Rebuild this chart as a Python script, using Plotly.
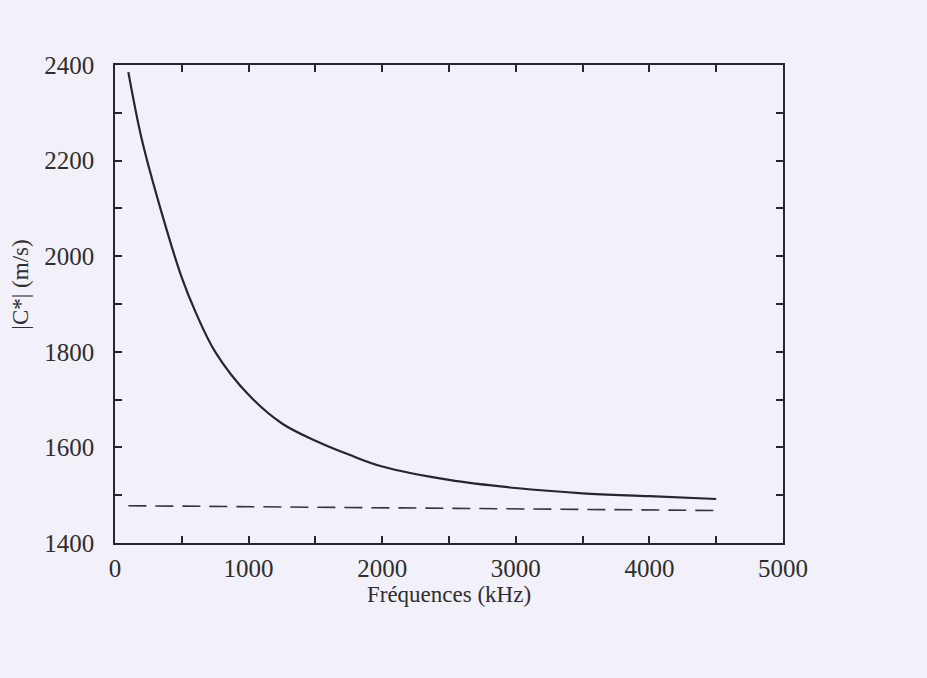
import plotly.graph_objects as go

# Data
freq_khz = [100, 200, 350, 500, 600, 750, 1000, 1250, 1500, 1750, 2000, 2500, 3000, 3500, 4000, 4500]
c_abs = [2385, 2245, 2090, 1955, 1885, 1800, 1710, 1650, 1614, 1585, 1560, 1532, 1515, 1504, 1498, 1492]

dash_freq = [100, 4500]
dash_c = [1478, 1468]

x_tickvals = [0, 500, 1000, 1500, 2000, 2500, 3000, 3500, 4000, 4500, 5000]
x_ticktext = ["0", "", "1000", "", "2000", "", "3000", "", "4000", "", "5000"]
y_tickvals = [1400, 1500, 1600, 1700, 1800, 1900, 2000, 2100, 2200, 2300, 2400]
y_ticktext = ["1400", "", "1600", "", "1800", "", "2000", "", "2200", "", "2400"]

bg = "#f2f0f8"
ink = "#26262e"
font = "Liberation Serif"

fig = go.Figure()
fig.add_trace(go.Scatter(x=freq_khz, y=c_abs, mode="lines",
                         line=dict(color=ink, width=2.2, shape="spline", smoothing=1.0),
                         showlegend=False))
fig.add_trace(go.Scatter(x=dash_freq, y=dash_c, mode="lines",
                         line=dict(color="#34343c", width=1.6, dash="18px,9px"),
                         showlegend=False))

axis_common = dict(showgrid=False, zeroline=False, showline=True, linecolor=ink,
                   linewidth=1.5, mirror="ticks", ticks="inside", ticklen=7,
                   tickcolor=ink, tickwidth=1.5,
                   tickfont=dict(family=font, size=25, color="#2e2e2e"))

fig.update_xaxes(range=[0, 5000], tickmode="array", tickvals=x_tickvals,
                 ticktext=x_ticktext, ticklabelstandoff=2,
                 title=dict(text="Fréquences (kHz)", font=dict(family=font, size=23, color="#2e2e2e"),
                            standoff=0),
                 **axis_common)
fig.update_yaxes(range=[1400, 2400], tickmode="array", tickvals=y_tickvals,
                 ticktext=y_ticktext, ticklabelstandoff=14, **axis_common)

fig.add_annotation(text="|C*| (m/s)", xref="paper", yref="paper",
                   x=-0.141, y=0.54, showarrow=False, textangle=-90,
                   xanchor="center", yanchor="middle",
                   font=dict(family=font, size=23, color="#2e2e2e"))

fig.update_layout(width=927, height=678, paper_bgcolor=bg, plot_bgcolor=bg,
                  margin=dict(l=115, r=144, t=65, b=135))

fig.write_html("out.html", config={"displayModeBar": False})

# remove the default page margin so the figure fills the window
with open("out.html", "r", encoding="utf-8") as f:
    html = f.read()
html = html.replace("<head>", "<head><style>html,body{margin:0;padding:0;overflow:hidden;background:%s;}</style>" % bg, 1)
with open("out.html", "w", encoding="utf-8") as f:
    f.write(html)
